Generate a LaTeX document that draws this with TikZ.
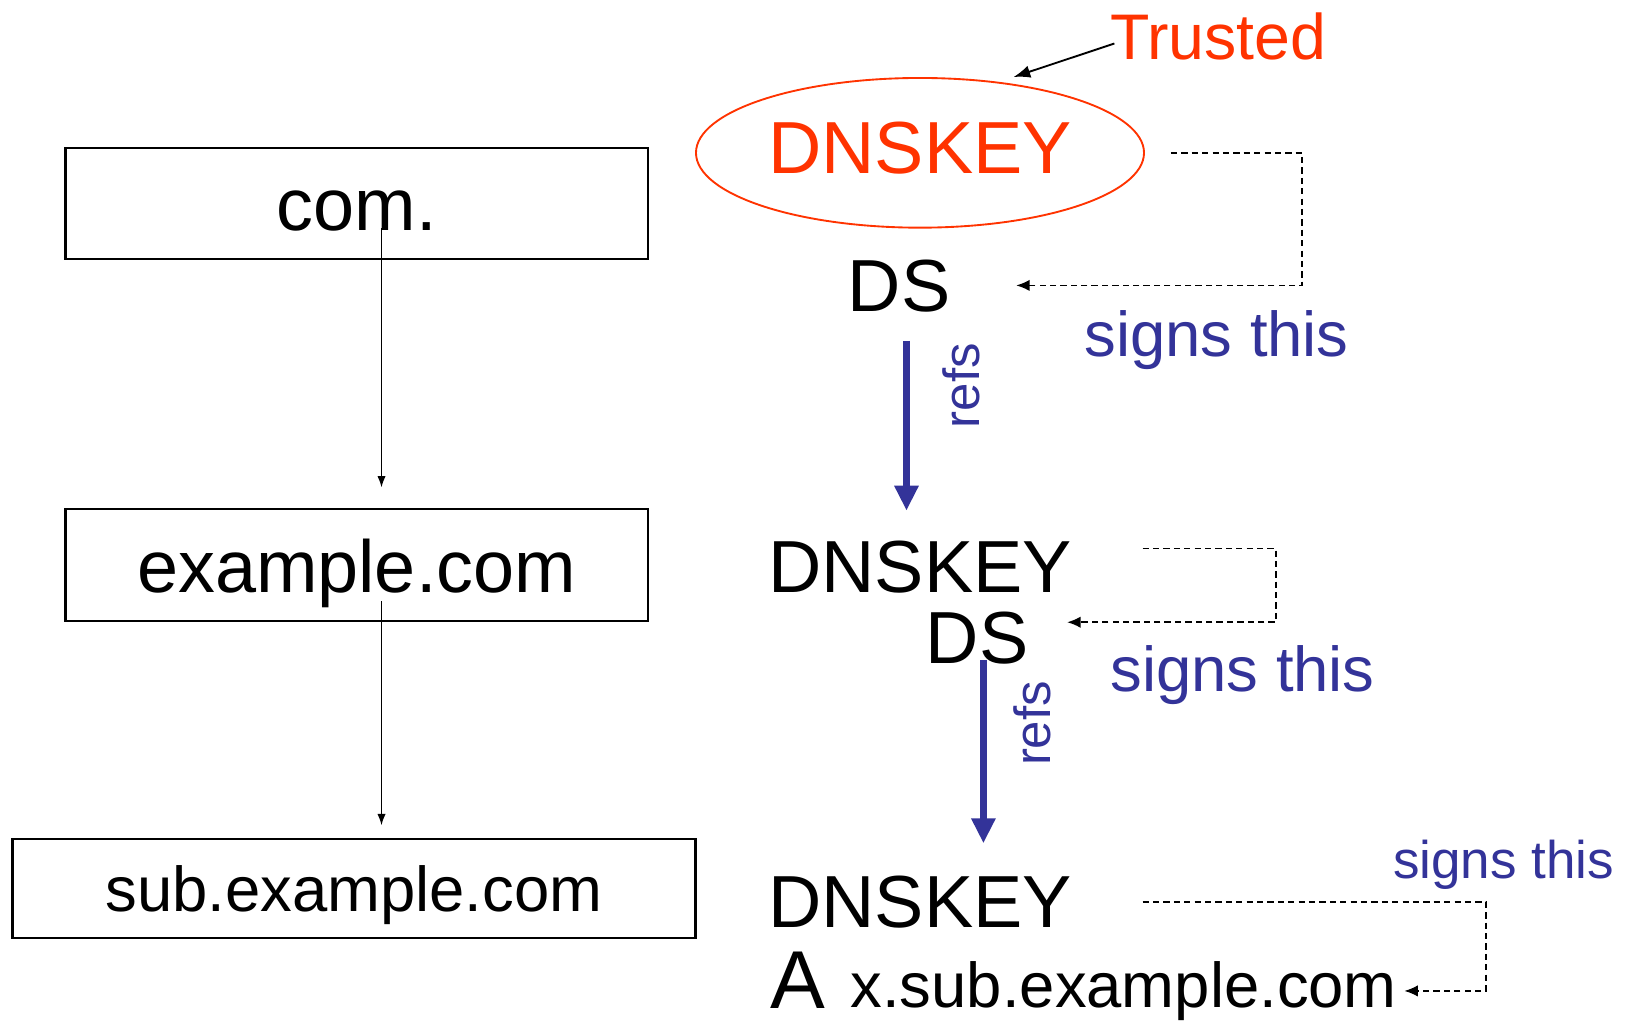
\documentclass[tikz,border=0pt]{standalone}
\usepackage{fontspec}
\setmainfont{Liberation Sans}
\usetikzlibrary{arrows.meta,shapes.geometric}
\definecolor{trustred}{HTML}{FF3300}
\definecolor{signblue}{HTML}{333399}

\tikzset{
  big/.style={font=\fontsize{71pt}{80pt}\selectfont},
  mid/.style={font=\fontsize{61pt}{70pt}\selectfont},
  zonebox/.style={draw, line width=2pt, inner sep=0pt, text depth=0pt},
  rec/.style={big, inner sep=0pt, anchor=base},
  signlbl/.style={mid, signblue, inner sep=0pt, anchor=base west},
  refslbl/.style={font=\fontsize{49pt}{56pt}\selectfont, signblue, inner sep=0pt, rotate=90},
  tree/.style={line width=1.6pt, -{Latex[length=11pt,width=8pt]}},
  signs/.style={line width=1.7pt, dash pattern=on 6pt off 4pt, -{Latex[length=13pt,width=11pt]}},
  refs/.style={signblue, line width=6.5pt, -{Triangle[length=24pt,width=22pt]}},
}

\begin{document}
\begin{tikzpicture}[x=1pt, y=-1pt]
\useasboundingbox (0,0) rectangle (1568,985);
\fill[white] (0,0) rectangle (1568,985);

% zone hierarchy on the left
\node[zonebox, big, minimum width=560pt, minimum height=107pt, text height=53pt] (com) at (343,195.5) {com.};
\node[zonebox, big, minimum width=560pt, minimum height=107pt, text height=53pt] (ex) at (343,543.5) {example.com};
\node[zonebox, mid, minimum width=657pt, minimum height=95pt, text height=45pt] (sub) at (340.5,854.5) {sub.example.com};

\draw[tree] ([xshift=24pt,yshift=-24pt]com.center) -- ([xshift=24pt,yshift=20pt]ex.north);
\draw[tree] ([xshift=24pt,yshift=-35pt]ex.center) -- ([xshift=26.5pt,yshift=12pt]sub.north);

% trust anchor
\node[ellipse, draw=trustred, line width=1.8pt, big, text=trustred, inner sep=0pt,
      minimum width=431pt, minimum height=144pt, text height=40pt, text depth=0pt] (key1) at (885,147) {DNSKEY};
\node[font=\fontsize{62pt}{70pt}\selectfont, text=trustred, inner sep=0pt, anchor=base west] (trusted) at (1068,57) {Trusted};
\draw[line width=1.8pt, -{Latex[length=16pt,width=12pt]}] ([xshift=4pt,yshift=-7pt]trusted.west) -- ([xshift=90pt]key1.north);

% records of com.
\node[rec] (ds1) at (865,300) {DS};
\draw[signs] ([xshift=25pt]key1.east) -- ++(126,0) |- ([xshift=63pt,yshift=1pt]ds1.east);
\node[signlbl] (sig1) at (1043,343) {signs this};
\coordinate (r1s) at ([xshift=7pt,yshift=-27pt]ds1.south);
\node[refslbl] (refs1) at (925,371) {refs};

% records of example.com
\node[rec] (key2) at (885,570) {DNSKEY};
\node[rec] (ds2) at (940,638) {DS};
\draw[refs, shorten >=29pt] (r1s) -- (r1s |- key2.north);
\draw[signs] ([xshift=68pt,yshift=18pt]key2.east) -- ++(128,0) |- ([xshift=37pt,yshift=15pt]ds2.east);
\node[signlbl] (sig2) at (1068,665) {signs this};
\coordinate (r2s) at ([xshift=6pt,yshift=4pt]ds2.south);
\node[refslbl] (refs2) at (993,696) {refs};

% records of sub.example.com
\node[rec] (key3) at (885,892) {DNSKEY};
\draw[refs, shorten >=31pt] (r2s) -- (r2s |- key3.north);
\node[font=\fontsize{79pt}{88pt}\selectfont, inner sep=0pt, anchor=base west] (arec) at (741,970) {A};
\node[mid, inner sep=0pt, anchor=base west] (host) at (818,969) {x.sub.example.com};
\draw[signs] ([xshift=68pt]key3.east) -- ++(330,0) |- ([xshift=7pt]host.east);
\node[font=\fontsize{51pt}{58pt}\selectfont, signblue, inner sep=0pt, anchor=base west] (sig3) at (1340,845) {signs this};
\end{tikzpicture}
\end{document}
